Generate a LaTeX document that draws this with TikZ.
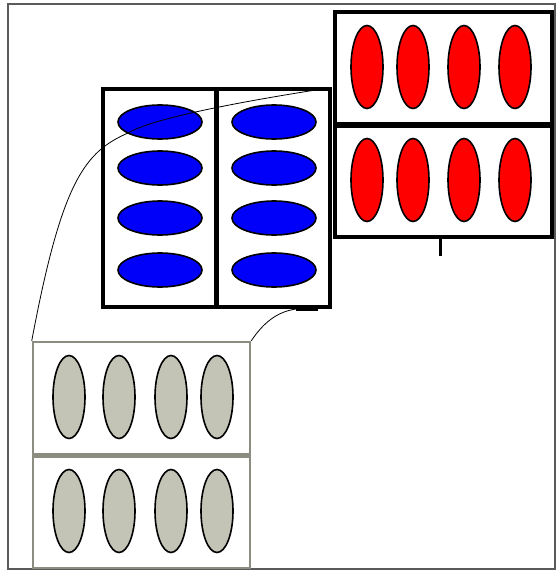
\documentclass[tikz,border=0pt]{standalone}
\usetikzlibrary{shapes.geometric}
\definecolor{eggred}{RGB}{255,0,0}
\definecolor{eggblue}{RGB}{0,0,250}
\definecolor{egggray}{RGB}{196,196,182}
\definecolor{framegray}{RGB}{90,90,90}
\definecolor{trimgray}{RGB}{140,140,128}
\begin{document}
\begin{tikzpicture}[x=1pt,y=-1pt,
  frame/.style={draw=framegray, line width=2pt},
  boxpanel/.style={draw=black, line width=3.5pt, rectangle, inner sep=0pt, minimum width=217pt},
  graypanel/.style={draw=trimgray, line width=2.5pt, rectangle, inner sep=0pt, minimum width=217pt},
  upright/.style={ellipse, draw=black, line width=1.6pt, inner sep=0pt, minimum width=32pt, minimum height=83pt},
  flat/.style={ellipse, draw=black, line width=1.6pt, inner sep=0pt, minimum width=84pt, minimum height=34pt, fill=eggblue},
  redegg/.style={upright, fill=eggred},
  grayegg/.style={upright, fill=egggray},
  link/.style={draw=black, line width=0.8pt}]
\useasboundingbox (0,0) rectangle (556,575);
\fill[white] (0,0) rectangle (556,575);
\draw[frame] (8,4) rectangle (555,569);

% red panel (two stacked compartments)
\node[boxpanel, minimum height=112pt] (r1) at (443.5,68) {};
\node[boxpanel, minimum height=113pt] (r2) at (443.5,180.5) {};
\draw[line width=5pt] (r1.south west) -- (r1.south east);
\coordinate (tickA) at (440,237);
\coordinate (tickB) at (440,256);
\draw[line width=3pt] (tickA) -- (tickB);
\foreach \x [count=\i] in {367,413,464,515}{
  \node[redegg] (ra\i) at (\x,67) {};
  \node[redegg] (rb\i) at (\x,180) {};
}

% blue panel (two side-by-side compartments)
\node[boxpanel, minimum width=227pt, minimum height=218pt] (blue) at (216.5,198) {};
\draw[line width=4.5pt] (blue.north) -- (blue.south);
\foreach \y [count=\i] in {122,168,218,270}{
  \node[flat] (bl\i) at (160,\y) {};
  \node[flat] (br\i) at (274,\y) {};
}

% gray panel (two stacked compartments)
\node[graypanel, minimum height=112pt] (g1) at (141.5,398) {};
\node[graypanel, minimum height=114pt] (g2) at (141.5,511) {};
\draw[draw=trimgray, line width=4.5pt] (g1.south west) -- (g1.south east);
\foreach \x [count=\i] in {69,119,171,217}{
  \node[grayegg] (ga\i) at (\x,397) {};
  \node[grayegg] (gb\i) at (\x,511) {};
}

% connectors from the blue panel to the gray panel
\coordinate (topstart) at (322,89);
\coordinate (bend) at (128,133);
\coordinate (botstart) at (318,309);
\coordinate (botbend) at (296,309);
\draw[link] (topstart) .. controls (220,105) and (150,120) .. (bend)
  .. controls (85,152) and (62,180) .. (g1.north west);
\draw[line width=3pt] (botstart) -- (botbend);
\draw[link] (botbend) .. controls (275,312) and (262,325) .. (g1.north east);
\end{tikzpicture}
\end{document}
